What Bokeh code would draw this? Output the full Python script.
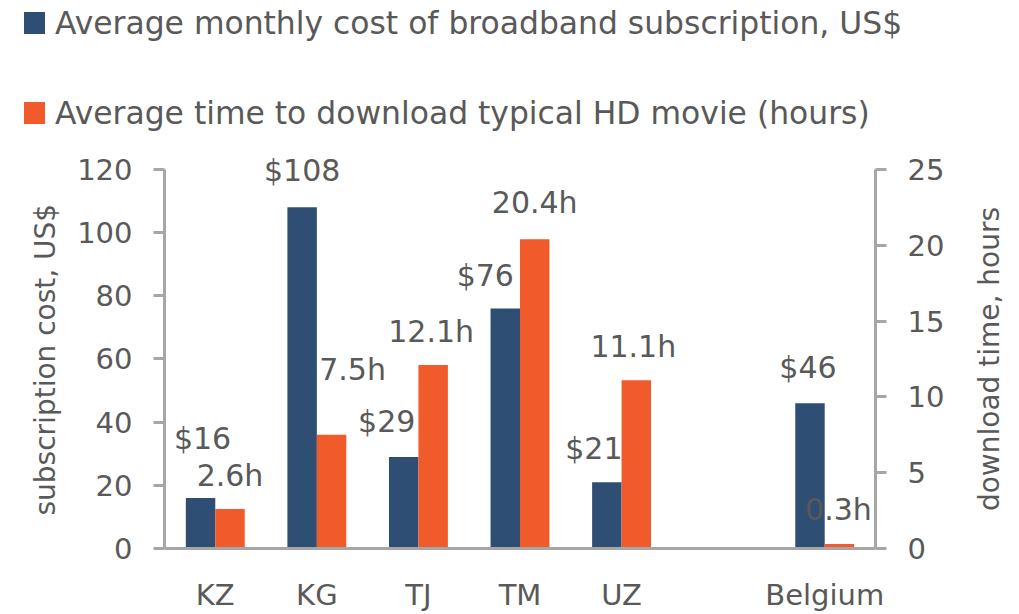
import math
from bokeh.plotting import figure
from bokeh.layouts import column, row
from bokeh.models import (ColumnDataSource, FactorRange, Range1d, LinearAxis,
                          LabelSet, FixedTicker, Div, Title)
from bokeh.transform import dodge
from bokeh.core.properties import value
from bokeh.embed import file_html
from bokeh.resources import INLINE

# ---------------- data ----------------
countries = ["KZ", "KG", "TJ", "TM", "UZ", "Belgium"]
cost_usd = [16, 108, 29, 76, 21, 46]
download_hours = [2.6, 7.5, 12.1, 20.4, 11.1, 0.3]
cost_ticks = [0, 20, 40, 60, 80, 100, 120]
hour_ticks = [0, 5, 10, 15, 20, 25]
cost_max = 120
hour_max = 25
legend_labels = ["Average monthly cost of broadband subscription, US$",
                 "Average time to download typical HD movie (hours)"]
left_title = "subscription cost, US$"
right_title = "download time, hours"

# ---------------- layout / style ----------------
axis_factors = countries[:5] + [" "] + countries[5:]   # empty slot before Belgium
cost_label_dx = [2, 0, -17, -20, -13, -2]
cost_label_dy = [49, 26, 25, 22, 23, 25]
hour_label_dx = [0, 21, -2, 0, -3, -1]
hour_label_dy = [23, 55, 23, 26, 23, 24]

W, H = 1019, 614
LEG_H = 140                              # height of the legend strip on top
MH = H - LEG_H                           # main chart height
RT_W = 64                                # width of the right-title strip
MW = W - RT_W                            # main chart width
AXIS_TOP, AXIS_BOTTOM = 169 - LEG_H, 550 - LEG_H
FRAME_TOP = 154 - LEG_H
FRAME_LEFT, FRAME_RIGHT = 164, 875
scale_ext = (AXIS_BOTTOM - FRAME_TOP) / (AXIS_BOTTOM - AXIS_TOP)
legend_tops = [12, 102]
right_title_center = (990 - MW, 359 - LEG_H)

FONT = "DejaVu Sans"
TXT = "#595959"
AX = "#a6a6a6"
BLUE = "#2E4F73"
ORANGE = "#F15A2B"
series_colors = [BLUE, ORANGE]
BAR_W = 0.29
OFF = 0.145

# ---------------- legend strip (HTML) ----------------
parts = [f'<div style="position:relative;width:{W}px;height:{LEG_H}px;margin:0;padding:0;">']
for lab, col, top in zip(legend_labels, series_colors, legend_tops):
    parts.append(f'<div style="position:absolute;left:24px;top:{top}px;width:21px;height:22px;'
                 f'background:{col};"></div>')
    parts.append(f'<div style="position:absolute;left:55px;top:{top}px;height:22px;line-height:22px;'
                 f'font-family:\'{FONT}\';font-size:31.4px;color:{TXT};white-space:nowrap;">{lab}</div>')
parts.append('</div>')
legend_div = Div(text="".join(parts), width=W, height=LEG_H, margin=0)

# ---------------- right axis title strip (HTML, reads bottom to top) ----------------
rt_html = (f'<div style="position:relative;width:{RT_W}px;height:{MH}px;margin:0;padding:0;">'
           f'<div style="position:absolute;left:{right_title_center[0]}px;top:{right_title_center[1]}px;'
           f'transform:translate(-50%,-50%) rotate(-90deg);white-space:nowrap;'
           f'font-family:\'{FONT}\';font-size:28px;line-height:32px;color:{TXT};">{right_title}</div></div>')
right_title_div = Div(text=rt_html, width=RT_W, height=MH, margin=0)

# ---------------- main chart ----------------
p = figure(x_range=FactorRange(factors=axis_factors),
           y_range=Range1d(0, cost_max * scale_ext),
           width=MW, height=MH, output_backend="svg", toolbar_location=None,
           min_border_left=FRAME_LEFT, min_border_right=MW - FRAME_RIGHT,
           min_border_top=FRAME_TOP, min_border_bottom=MH - AXIS_BOTTOM, margin=0)
p.extra_y_ranges = {"hours": Range1d(0, hour_max * scale_ext)}
p.outline_line_color = None
p.xgrid.grid_line_color = None
p.ygrid.grid_line_color = None

right_axis = LinearAxis(y_range_name="hours")
p.add_layout(right_axis, "right")

left_axis = p.yaxis[0]
left_axis.ticker = FixedTicker(ticks=cost_ticks)
left_axis.bounds = (0, cost_max)
right_axis.ticker = FixedTicker(ticks=hour_ticks)
right_axis.bounds = (0, hour_max)

for ax in [left_axis, right_axis]:
    ax.axis_line_color = AX
    ax.axis_line_width = 3
    ax.major_tick_line_color = AX
    ax.major_tick_line_width = 3
    ax.major_tick_out = 11
    ax.major_tick_in = 0
    ax.minor_tick_line_color = None
    ax.major_label_text_font = FONT
    ax.major_label_text_font_size = "29px"
    ax.major_label_text_color = TXT
    ax.major_label_standoff = 21

# left title: a Title in the left panel, anchored near the bottom of the axis
p.add_layout(Title(text=left_title, align="left", offset=AXIS_BOTTOM - (517 - LEG_H),
                   text_font=FONT, text_font_size="28px", text_font_style="normal",
                   text_color=TXT, standoff=25), "left")

xa = p.xaxis[0]
xa.axis_line_color = AX
xa.axis_line_width = 3
xa.major_tick_line_color = None
xa.minor_tick_line_color = None
xa.major_tick_out = 0
xa.major_tick_in = 0
xa.major_label_text_font = FONT
xa.major_label_text_font_size = "29px"
xa.major_label_text_color = TXT
xa.major_label_standoff = 29

src = ColumnDataSource(dict(
    country=countries,
    cost=cost_usd,
    hours=download_hours,
    cost_label=[f"${v:.0f}" for v in cost_usd],
    hour_label=[f"{v:.1f}h" for v in download_hours],
    cost_dx=cost_label_dx, cost_dy=cost_label_dy,
    hour_dx=hour_label_dx, hour_dy=hour_label_dy,
))

p.vbar(x=dodge("country", -OFF, range=p.x_range), top="cost", width=BAR_W,
       source=src, fill_color=BLUE, line_color=None)
p.vbar(x=dodge("country", OFF, range=p.x_range), top="hours", width=BAR_W,
       source=src, fill_color=ORANGE, line_color=None, y_range_name="hours")

p.add_layout(LabelSet(x=dodge("country", -OFF, range=p.x_range), y="cost", text="cost_label",
                      x_offset="cost_dx", y_offset="cost_dy", source=src,
                      text_align="center", text_baseline="alphabetic",
                      text_font=value(FONT), text_font_size=value("30px"), text_color=TXT))
p.add_layout(LabelSet(x=dodge("country", OFF, range=p.x_range), y="hours", text="hour_label",
                      x_offset="hour_dx", y_offset="hour_dy", source=src, y_range_name="hours",
                      text_align="center", text_baseline="alphabetic",
                      text_font=value(FONT), text_font_size=value("30px"), text_color=TXT))

layout = column(legend_div, row(p, right_title_div, spacing=0), spacing=0)
open("out.html", "w").write(file_html(layout, INLINE))
